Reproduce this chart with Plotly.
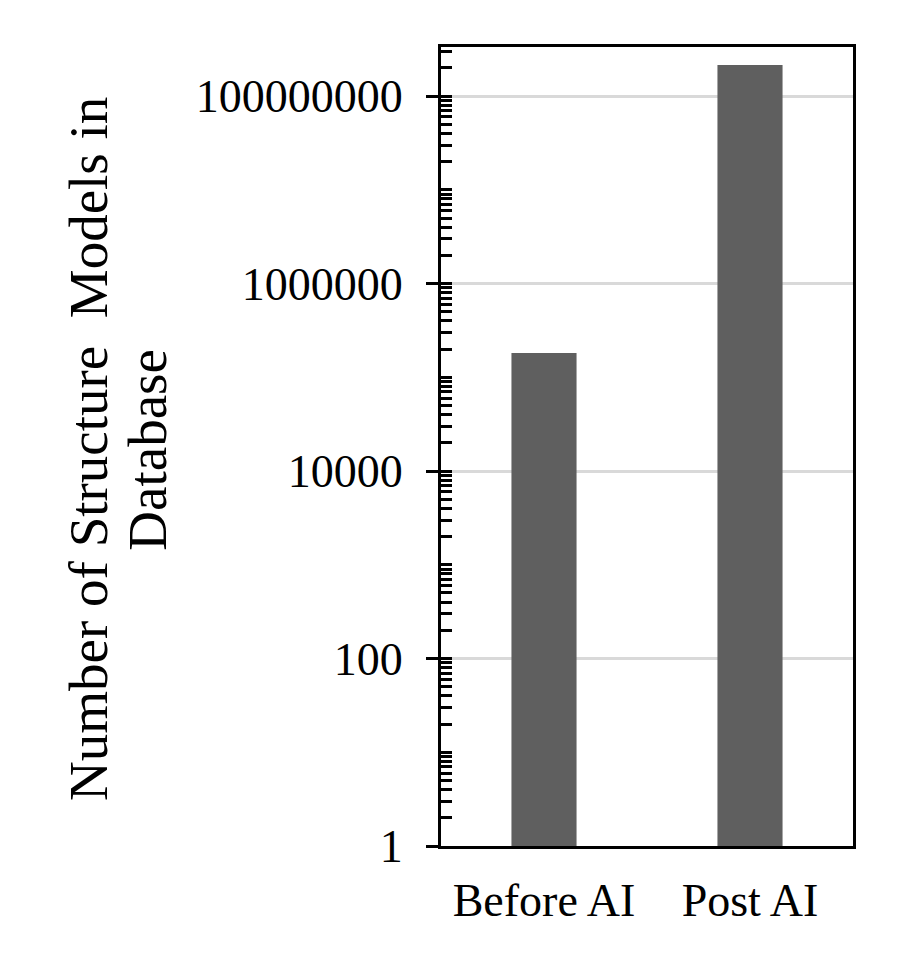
import plotly.graph_objects as go

categories = ["Before AI", "Post AI"]
values = [182000, 214000000]
major_ticks = [1, 100, 10000, 1000000, 100000000]
major_labels = ["1", "100", "10000", "1000000", "100000000"]
minor_ticks = [m * 10 ** k for k in range(0, 9) for m in range(2, 10)] + [10 ** k for k in (1, 3, 5, 7)]
title_line1 = "Number of Structure\u00a0 Models in"
title_line2 = "Database"

FONT = "Liberation Serif, Times New Roman, serif"

fig = go.Figure()
fig.add_trace(go.Bar(x=categories, y=values, marker=dict(color="#5f5f5f", line=dict(width=0)),
                     width=0.316, showlegend=False))
# invisible trace for second y axis (inside ticks)
fig.add_trace(go.Scatter(x=categories, y=values, yaxis="y2", mode="markers",
                         marker=dict(opacity=0), showlegend=False, hoverinfo="skip"))

W, H = 889, 938
L, T = 433, 39
R = W - 845
B = H - 838
PW = W - L - R

fig.update_layout(
    width=W, height=H,
    margin=dict(l=L, r=R, t=T, b=B),
    paper_bgcolor="white", plot_bgcolor="white",
    font=dict(family=FONT, size=46, color="black"),
    xaxis=dict(showline=True, linecolor="black", linewidth=3, mirror=True,
               ticks="", tickfont=dict(size=46), showgrid=False, ticklabelstandoff=12),
    yaxis=dict(type="log", range=[0, 8.523], tickvals=major_ticks, ticktext=major_labels,
               ticks="outside", ticklen=12, tickwidth=3, tickcolor="black",
               showline=True, linecolor="black", linewidth=3, mirror=True,
               showgrid=True, gridcolor="#d9d9d9", gridwidth=2.5,
               tickfont=dict(size=46), ticklabelstandoff=14, zeroline=False),
    yaxis2=dict(type="log", range=[0, 8.523], overlaying="y", side="left", anchor="x",
                tickvals=major_ticks + minor_ticks, ticks="inside", ticklen=11, tickwidth=3,
                tickcolor="black", showticklabels=False, showline=False, showgrid=False,
                zeroline=False),
    annotations=[
        dict(text=title_line1, xref="paper", yref="paper", x=(81 - L) / PW, y=0.497,
             xanchor="center", yanchor="middle", textangle=-90, showarrow=False,
             font=dict(size=55, family=FONT)),
        dict(text=title_line2, xref="paper", yref="paper", x=(140 - L) / PW, y=0.496,
             xanchor="center", yanchor="middle", textangle=-90, showarrow=False,
             font=dict(size=55, family=FONT)),
    ],
)

fig.write_html("out.html")
